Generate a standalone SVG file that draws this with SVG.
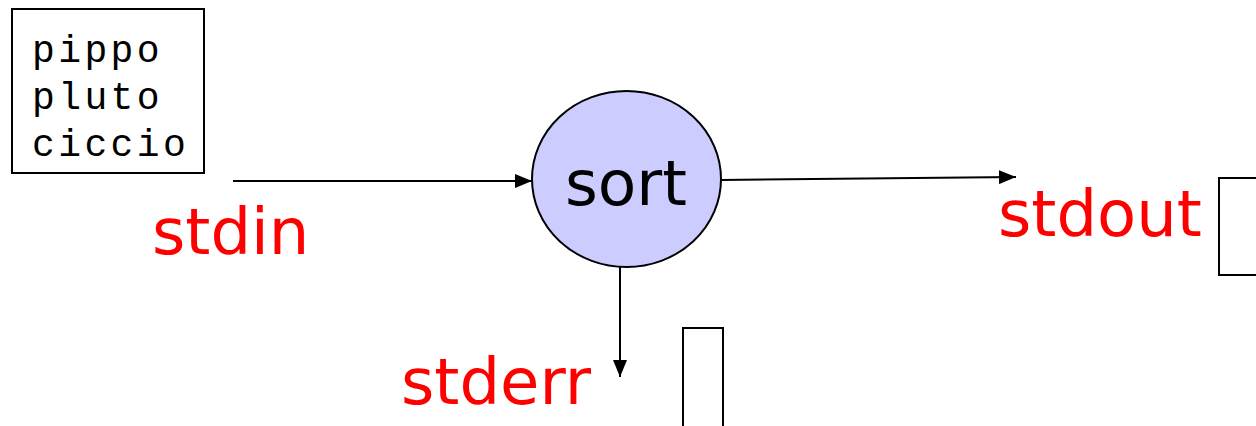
<svg xmlns="http://www.w3.org/2000/svg" width="1256" height="426" viewBox="0 0 1256 426">
  <style>
    .box { fill: #ffffff; stroke: #000000; stroke-width: 2; }
    .label { font-family: "DejaVu Sans", sans-serif; font-size: 64px; fill: #ff0000; }
    .mono { font-family: "Liberation Mono", "Courier New", monospace; font-size: 38px; fill: #000000; letter-spacing: 3.4px; }
    .edge { stroke: #000000; stroke-width: 2; fill: none; marker-end: url(#arrow); }
  </style>
  <defs>
    <marker id="arrow" markerWidth="17" markerHeight="14" refX="17" refY="7" orient="auto" markerUnits="userSpaceOnUse">
      <path d="M0,0 L17,7 L0,14 Z" fill="#000000"/>
    </marker>
  </defs>
  <rect width="1256" height="426" fill="#ffffff"/>

  <g id="input-file">
    <rect class="box" x="12" y="9" width="192" height="164"/>
    <text class="mono" x="32" y="62">pippo</text>
    <text class="mono" x="32" y="109">pluto</text>
    <text class="mono" x="32" y="156">ciccio</text>
  </g>

  <g id="sort">
    <ellipse cx="626.5" cy="179" rx="94.5" ry="88" fill="#ccccff" stroke="#000000" stroke-width="2"/>
    <text x="626" y="205" text-anchor="middle" font-family="DejaVu Sans, sans-serif" font-size="63" fill="#000000">sort</text>
  </g>

  <g id="connectors">
    <line class="edge" x1="233" y1="181" x2="532" y2="181"/>
    <line class="edge" x1="721" y1="180" x2="1016" y2="177"/>
    <line class="edge" x1="620" y1="267" x2="620" y2="377"/>
  </g>

  <g id="stdin">
    <text class="label" x="152" y="254">stdin</text>
  </g>

  <g id="stdout">
    <text class="label" x="998" y="236">stdout</text>
    <rect class="box" x="1219" y="178" width="50" height="97"/>
  </g>

  <g id="stderr">
    <text class="label" x="401" y="404">stderr</text>
    <rect class="box" x="683" y="328" width="40" height="110"/>
  </g>
</svg>
